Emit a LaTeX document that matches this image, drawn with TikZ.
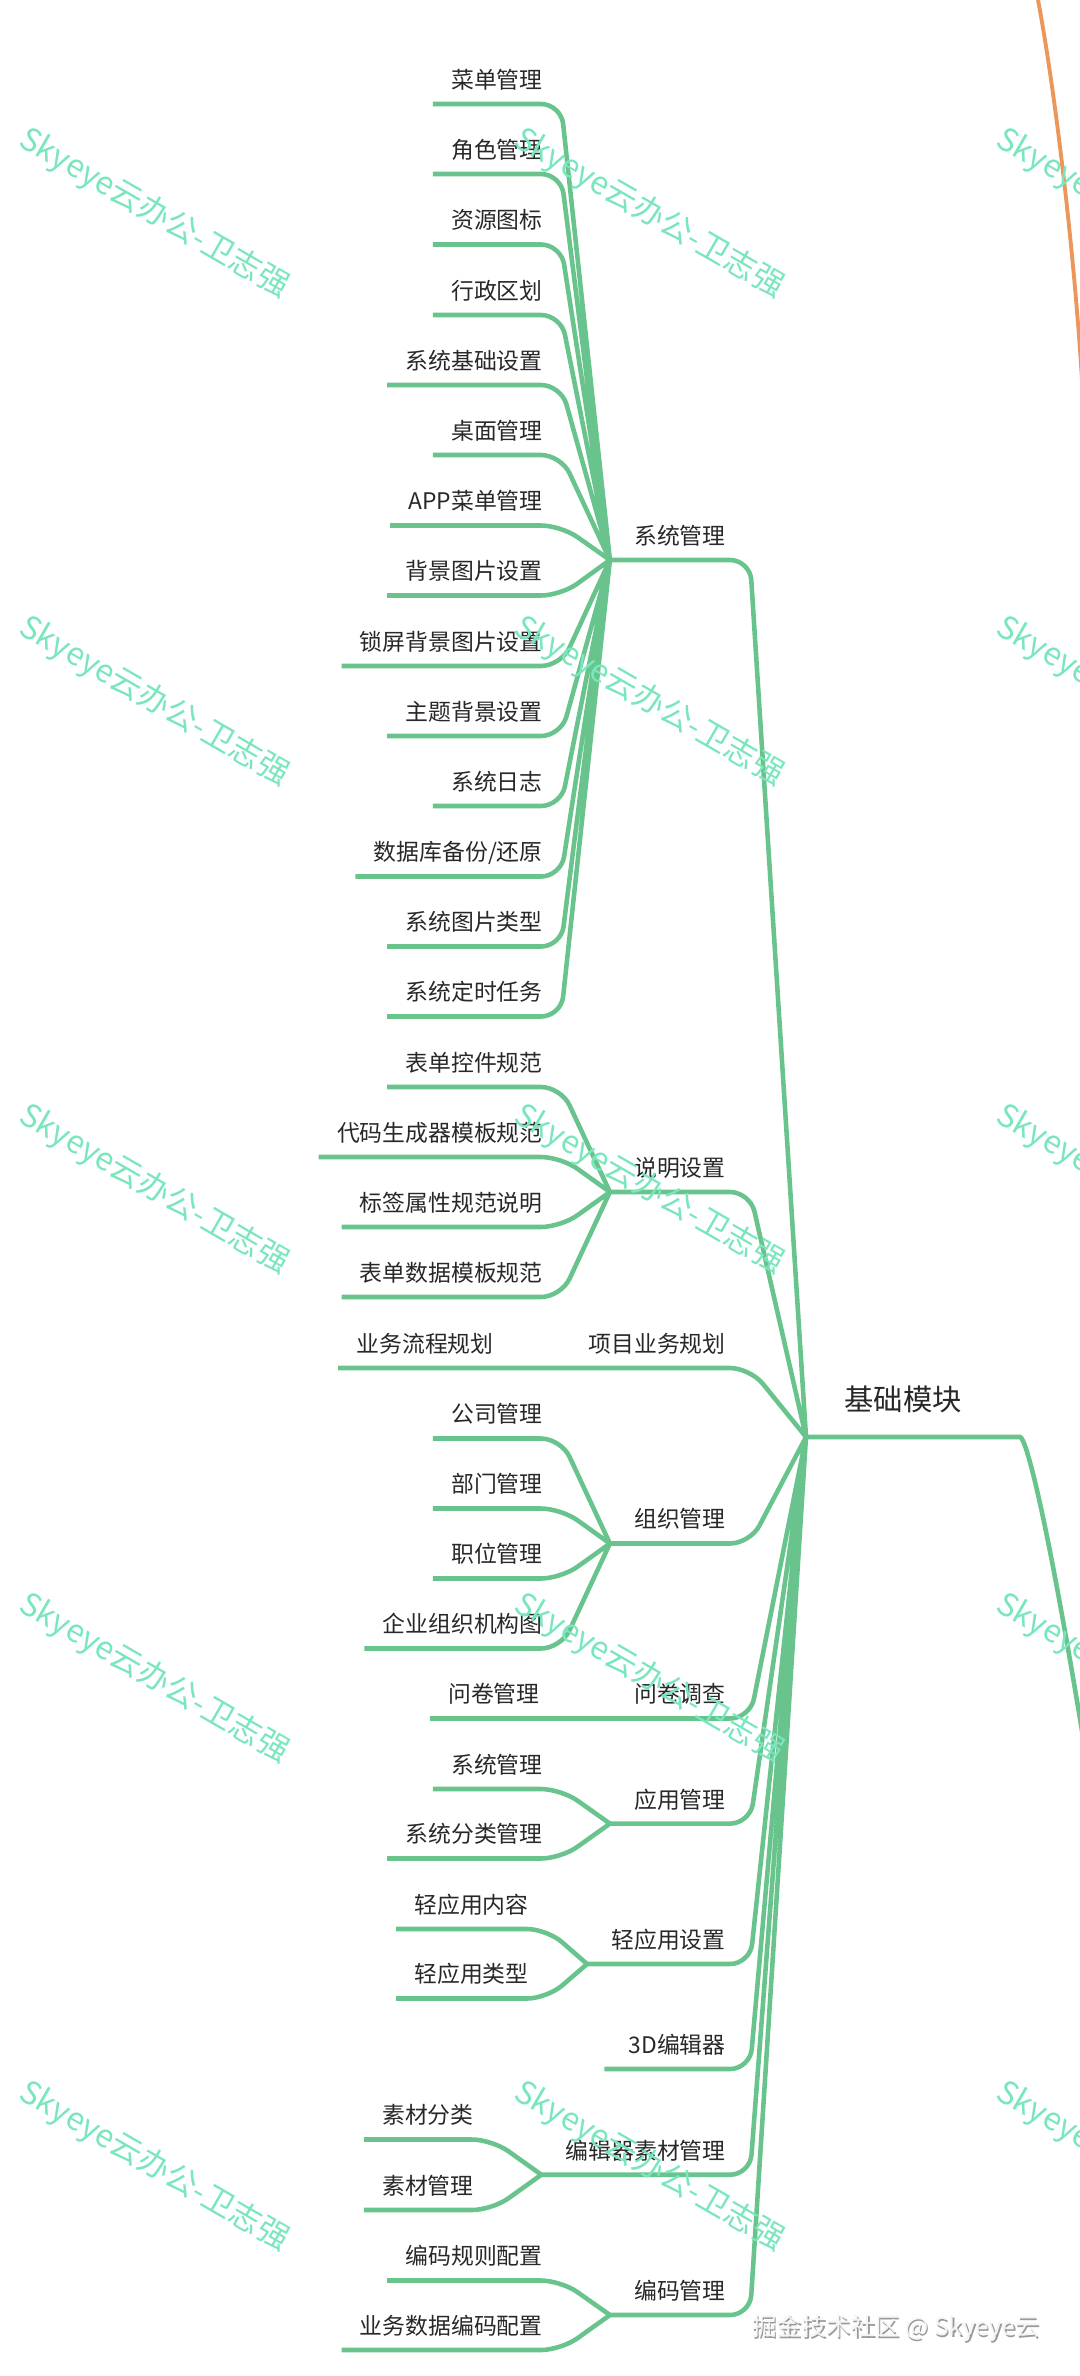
\documentclass[tikz,border=0pt]{standalone}
\usepackage{fontspec}
\setmainfont{Noto Sans CJK SC}
\definecolor{mmgreen}{RGB}{104,196,140}
\definecolor{mmorange}{RGB}{236,150,92}
\definecolor{mmmint}{RGB}{122,230,190}
\definecolor{mmtext}{RGB}{40,40,40}
\usepackage{tikz}

\begin{document}
\begin{tikzpicture}[x=0.2mm,y=-0.2mm,
  leaf/.style={anchor=south east,inner xsep=3.6mm,inner ysep=2.34mm,text height=0.8em,text depth=0.2em,font=\fontsize{13pt}{15pt}\selectfont,text=mmtext},
  topic/.style={leaf,inner xsep=4.8mm},
  rootnode/.style={anchor=south west,inner xsep=7.6mm,inner ysep=4.6mm,text height=0.8em,text depth=0.2em,font=\fontsize{16.7pt}{19pt}\selectfont,text=mmtext},
  branch/.style={draw=mmgreen,line width=2.6pt,rounded corners=4mm},
  wmark/.style={rotate=-30,anchor=west,inner sep=0pt,text=mmmint,font=\fontsize{18pt}{18pt}\selectfont},
  sig/.style={anchor=west,inner sep=0pt,font=\fontsize{14pt}{14pt}\selectfont}]
\useasboundingbox (0,0) rectangle (1080,2376);
\clip (0,0) rectangle (1080,2376);

\coordinate (oa) at (1038,0);
\coordinate (ob) at (1082,380);
\draw[mmorange,line width=2.2pt] (oa) .. controls (1055,90) and (1074,250) .. (ob);

\node[rootnode] (base) at (806,1437) {基础模块};
\coordinate (baseout) at (1090,1780);
\draw[branch] (base.south west) -- (base.south east) .. controls (1025,1437) and (1045,1500) .. (baseout);

\node[topic] (sys) at (750,560) {系统管理};
\node[topic] (doc) at (750,1192) {说明设置};
\node[topic] (proj) at (750,1368) {项目业务规划};
\node[topic] (org) at (750,1543.5) {组织管理};
\node[topic] (quest) at (750,1718.5) {问卷调查};
\node[topic] (app) at (750,1823.6) {应用管理};
\node[topic] (lite) at (750,1964) {轻应用设置};
\node[topic] (edit3d) at (750,2069) {3D编辑器};
\node[topic] (mat) at (750,2174.7) {编辑器素材管理};
\node[topic] (code) at (750,2315) {编码管理};

\node[leaf] (sys1) at (561,104) {菜单管理};
\node[leaf] (sys2) at (561,174) {角色管理};
\node[leaf] (sys3) at (561,244.5) {资源图标};
\node[leaf] (sys4) at (561,315) {行政区划};
\node[leaf] (sys5) at (561,385) {系统基础设置};
\node[leaf] (sys6) at (561,455) {桌面管理};
\node[leaf] (sys7) at (561,525.5) {APP菜单管理};
\node[leaf] (sys8) at (561,595.5) {背景图片设置};
\node[leaf] (sys9) at (561,666) {锁屏背景图片设置};
\node[leaf] (sys10) at (561,736) {主题背景设置};
\node[leaf] (sys11) at (561,806) {系统日志};
\node[leaf] (sys12) at (561,876.5) {数据库备份/还原};
\node[leaf] (sys13) at (561,946.5) {系统图片类型};
\node[leaf] (sys14) at (561,1016.5) {系统定时任务};

\node[leaf] (doc1) at (561,1087) {表单控件规范};
\node[leaf] (doc2) at (561,1157) {代码生成器模板规范};
\node[leaf] (doc3) at (561,1227) {标签属性规范说明};
\node[leaf] (doc4) at (561,1297) {表单数据模板规范};

\node[leaf] (proj1) at (512,1368) {业务流程规划};

\node[leaf] (org1) at (561,1438.5) {公司管理};
\node[leaf] (org2) at (561,1508.5) {部门管理};
\node[leaf] (org3) at (561,1578.5) {职位管理};
\node[leaf] (org4) at (561,1648.5) {企业组织机构图};

\node[leaf] (quest1) at (558,1718.5) {问卷管理};

\node[leaf] (app1) at (561,1789) {系统管理};
\node[leaf] (app2) at (561,1858.5) {系统分类管理};

\node[leaf] (lite1) at (547,1929) {轻应用内容};
\node[leaf] (lite2) at (547,1998.5) {轻应用类型};

\node[leaf] (mat1) at (492,2139.5) {素材分类};
\node[leaf] (mat2) at (492,2210) {素材管理};

\node[leaf] (code1) at (561,2280.5) {编码规则配置};
\node[leaf] (code2) at (561,2350) {业务数据编码配置};

\draw[branch] (sys.south west) -- (sys.south east) -- (base.south west)
  (doc.south west) -- (doc.south east) -- (base.south west)
  (proj1.south west) -- (proj.south east) -- (base.south west)
  (org.south west) -- (org.south east) -- (base.south west)
  (quest1.south west) -- (quest.south east) -- (base.south west)
  (app.south west) -- (app.south east) -- (base.south west)
  (lite.south west) -- (lite.south east) -- (base.south west)
  (edit3d.south west) -- (edit3d.south east) -- (base.south west)
  (mat.south west) -- (mat.south east) -- (base.south west)
  (code.south west) -- (code.south east) -- (base.south west);

\draw[branch] (sys1.south west) -- (sys1.south east) -- (sys.south west)
  (sys2.south west) -- (sys2.south east) -- (sys.south west)
  (sys3.south west) -- (sys3.south east) -- (sys.south west)
  (sys4.south west) -- (sys4.south east) -- (sys.south west)
  (sys5.south west) -- (sys5.south east) -- (sys.south west)
  (sys6.south west) -- (sys6.south east) -- (sys.south west)
  (sys7.south west) -- (sys7.south east) -- (sys.south west)
  (sys8.south west) -- (sys8.south east) -- (sys.south west)
  (sys9.south west) -- (sys9.south east) -- (sys.south west)
  (sys10.south west) -- (sys10.south east) -- (sys.south west)
  (sys11.south west) -- (sys11.south east) -- (sys.south west)
  (sys12.south west) -- (sys12.south east) -- (sys.south west)
  (sys13.south west) -- (sys13.south east) -- (sys.south west)
  (sys14.south west) -- (sys14.south east) -- (sys.south west);

\draw[branch] (doc1.south west) -- (doc1.south east) -- (doc.south west)
  (doc2.south west) -- (doc2.south east) -- (doc.south west)
  (doc3.south west) -- (doc3.south east) -- (doc.south west)
  (doc4.south west) -- (doc4.south east) -- (doc.south west);

\draw[branch] (org1.south west) -- (org1.south east) -- (org.south west)
  (org2.south west) -- (org2.south east) -- (org.south west)
  (org3.south west) -- (org3.south east) -- (org.south west)
  (org4.south west) -- (org4.south east) -- (org.south west);

\draw[branch] (app1.south west) -- (app1.south east) -- (app.south west)
  (app2.south west) -- (app2.south east) -- (app.south west)
  (lite1.south west) -- (lite1.south east) -- (lite.south west)
  (lite2.south west) -- (lite2.south east) -- (lite.south west)
  (mat1.south west) -- (mat1.south east) -- (mat.south west)
  (mat2.south west) -- (mat2.south east) -- (mat.south west)
  (code1.south west) -- (code1.south east) -- (code.south west)
  (code2.south west) -- (code2.south east) -- (code.south west);

\node[wmark] (wm1) at (22,137) {Skyeye云办公-卫志强};
\node[wmark] (wm2) at (517,137) {Skyeye云办公-卫志强};
\node[wmark] (wm3) at (999,137) {Skyeye云办公-卫志强};
\node[wmark] (wm4) at (22,625) {Skyeye云办公-卫志强};
\node[wmark] (wm5) at (517,625) {Skyeye云办公-卫志强};
\node[wmark] (wm6) at (999,625) {Skyeye云办公-卫志强};
\node[wmark] (wm7) at (22,1113) {Skyeye云办公-卫志强};
\node[wmark] (wm8) at (517,1113) {Skyeye云办公-卫志强};
\node[wmark] (wm9) at (999,1113) {Skyeye云办公-卫志强};
\node[wmark] (wm10) at (22,1602) {Skyeye云办公-卫志强};
\node[wmark] (wm11) at (517,1602) {Skyeye云办公-卫志强};
\node[wmark] (wm12) at (999,1602) {Skyeye云办公-卫志强};
\node[wmark] (wm13) at (22,2090) {Skyeye云办公-卫志强};
\node[wmark] (wm14) at (517,2090) {Skyeye云办公-卫志强};
\node[wmark] (wm15) at (999,2090) {Skyeye云办公-卫志强};

\node[sig,text=gray!80] (jjshadow) at (753.5,2329.5) {掘金技术社区 @ Skyeye云};
\node[sig,text=gray!8] (jj) at (752,2328) {掘金技术社区 @ Skyeye云};
\end{tikzpicture}
\end{document}
